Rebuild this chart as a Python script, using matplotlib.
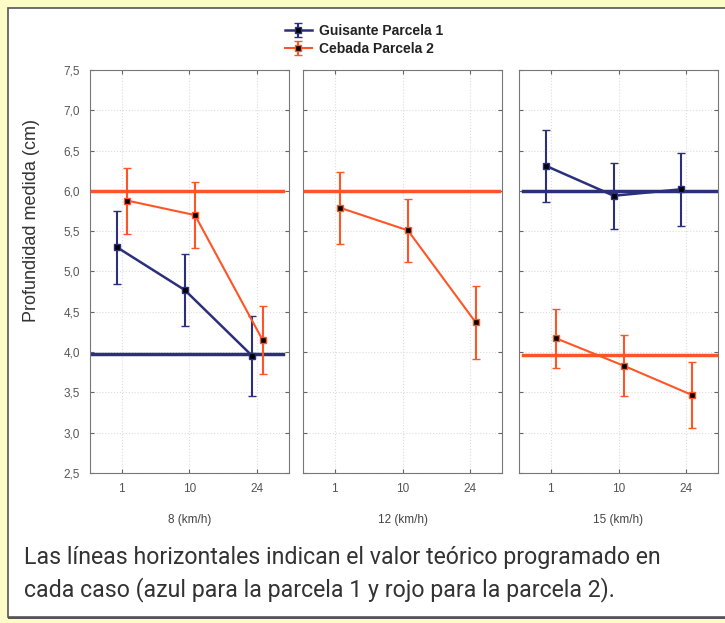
import matplotlib.pyplot as plt
import matplotlib.patches as mpatches
import numpy as np

panels = ['8 (km/h)', '12 (km/h)', '15 (km/h)']
categories = ['1', '10', '24']

# medias y errores (None = sin datos en ese panel)
guisante = [[5.30, 4.77, 3.95], None, [6.31, 5.94, 6.02]]
guisante_err = [[0.45, 0.45, 0.50], None, [0.45, 0.41, 0.45]]
cebada = [[5.88, 5.70, 4.15], [5.79, 5.51, 4.37], [4.17, 3.83, 3.47]]
cebada_err = [[0.41, 0.41, 0.42], [0.45, 0.39, 0.45], [0.37, 0.38, 0.41]]

# valor teorico programado
guisante_ref = [3.98, None, 6.0]
cebada_ref = [6.0, 6.0, 3.96]

yticks = [2.5, 3.0, 3.5, 4.0, 4.5, 5.0, 5.5, 6.0, 6.5, 7.0, 7.5]

blue = '#2b2f7c'
red = '#ff5526'
W, H = 725, 623

plt.rcParams['font.family'] = ['Liberation Sans', 'DejaVu Sans']

fig = plt.figure(figsize=(W / 100, H / 100), dpi=100)
fig.patch.set_facecolor('#fdfbc6')
fig.patches.append(mpatches.Rectangle((8 / W, 1 - 617 / H), 1, (617 - 8) / H,
                                      transform=fig.transFigure, facecolor='white',
                                      edgecolor='#555555', linewidth=1.2, zorder=-2))
fig.patches.append(mpatches.Rectangle((8 / W, 1 - 619 / H), 1, 2.5 / H,
                                      transform=fig.transFigure, facecolor='#555555',
                                      edgecolor='none', zorder=-1))

lefts = [90, 303, 519]
x = np.arange(len(categories))
handles = []
for i, left in enumerate(lefts):
    ax = fig.add_axes([left / W, 1 - 473 / H, 199 / W, 403 / H])
    ax.set_xlim(-0.47, 2.47)
    ax.set_ylim(2.5, 7.5)
    ax.set_yticks(yticks)
    ax.set_xticks(x)
    ax.set_xticklabels(categories)
    ax.grid(True, linestyle=':', color='#dcdcdc', linewidth=0.8)
    ax.tick_params(direction='in', length=3, top=True, right=True,
                   colors='#666666', labelcolor='#555555', labelsize=8.5, pad=7)
    for s in ax.spines.values():
        s.set_color('#777777')
    if i == 0:
        ax.set_yticklabels([f'{v:.1f}'.replace('.', ',') for v in yticks])
    else:
        ax.set_yticklabels([])
    ax.set_xlabel(panels[i], fontsize=8.5, color='#444444', labelpad=14)

    if i == 2:
        span = (0.02, 1.0)
    elif i == 1:
        span = (0.0, 0.985)
    else:
        span = (0.0, 0.97)
    if guisante_ref[i] is not None:
        ax.axhline(guisante_ref[i], *span, color=blue, linewidth=2.5, zorder=2)
    if cebada_ref[i] is not None:
        ax.axhline(cebada_ref[i], *span, color=red, linewidth=2.5, zorder=2)

    if guisante[i] is not None:
        h1 = ax.errorbar(x - 0.07, guisante[i], yerr=guisante_err[i], color=blue,
                         linewidth=1.8, elinewidth=1.5, capsize=3, marker='s',
                         markersize=5, markerfacecolor='black', markeredgecolor=blue, zorder=3)
        if not handles:
            handles.append(h1)
    h2 = ax.errorbar(x + 0.08, cebada[i], yerr=cebada_err[i], color=red,
                     linewidth=1.5, elinewidth=1.5, capsize=3, marker='s',
                     markersize=5, markerfacecolor='black', markeredgecolor=red, zorder=3)
    if len(handles) == 1:
        handles.append(h2)

fig.text(32 / W, 1 - 221 / H, 'Profundidad medida (cm)', rotation=90, fontsize=13,
         color='#333333', ha='center', va='center')

fig.legend(handles, ['Guisante Parcela 1', 'Cebada Parcela 2'], loc='upper left',
           bbox_to_anchor=(272 / W, 1 - 11 / H), frameon=False,
           prop={'size': 10, 'weight': 'bold'}, labelcolor='#222222',
           handlelength=2.0, handletextpad=0.5, labelspacing=0.3)

caption = ('Las líneas horizontales indican el valor teórico programado en\n'
           'cada caso (azul para la parcela 1 y rojo para la parcela 2).')
fig.text(24 / W, 1 - 574 / H, caption, fontsize=16.7, color='#333333', va='center',
         ha='left', linespacing=1.38, family=['Roboto', 'DejaVu Sans'])

fig.savefig('out.png', dpi=100, facecolor=fig.get_facecolor())
